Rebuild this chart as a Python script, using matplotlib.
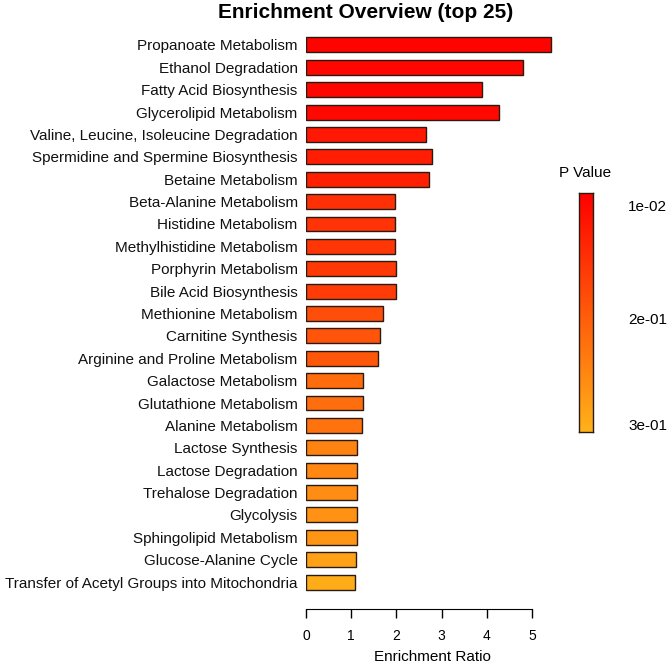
import matplotlib
matplotlib.use("Agg")
import matplotlib.pyplot as plt
import numpy as np
from matplotlib.colors import LinearSegmentedColormap, Normalize

plt.rcParams['font.family'] = ['Liberation Sans', 'DejaVu Sans']

pathways = [
    "Propanoate Metabolism",
    "Ethanol Degradation",
    "Fatty Acid Biosynthesis",
    "Glycerolipid Metabolism",
    "Valine, Leucine, Isoleucine Degradation",
    "Spermidine and Spermine Biosynthesis",
    "Betaine Metabolism",
    "Beta-Alanine Metabolism",
    "Histidine Metabolism",
    "Methylhistidine Metabolism",
    "Porphyrin Metabolism",
    "Bile Acid Biosynthesis",
    "Methionine Metabolism",
    "Carnitine Synthesis",
    "Arginine and Proline Metabolism",
    "Galactose Metabolism",
    "Glutathione Metabolism",
    "Alanine Metabolism",
    "Lactose Synthesis",
    "Lactose Degradation",
    "Trehalose Degradation",
    "Glycolysis",
    "Sphingolipid Metabolism",
    "Glucose-Alanine Cycle",
    "Transfer of Acetyl Groups into Mitochondria",
]
enrichment = [5.42, 4.79, 3.90, 4.26, 2.65, 2.79, 2.72, 1.97, 1.97, 1.97,
              1.99, 1.99, 1.70, 1.63, 1.59, 1.25, 1.25, 1.23, 1.13, 1.13,
              1.13, 1.12, 1.12, 1.11, 1.08]
pvalues = [0.005, 0.010, 0.012, 0.015, 0.040, 0.050, 0.055, 0.080, 0.085, 0.090,
           0.095, 0.100, 0.130, 0.140, 0.145, 0.180, 0.185, 0.190, 0.220, 0.225,
           0.235, 0.245, 0.250, 0.270, 0.290]
xticks = [0, 1, 2, 3, 4, 5]
cbar_labels = ["1e-02", "2e-01", "3e-01"]
cbar_label_pos = [0.94, 0.47, 0.025]  # fraction from bottom of colorbar

cmap = LinearSegmentedColormap.from_list("pv", ["#FF0000", "#FF5A0A", "#FFB21A"])
norm = Normalize(vmin=0.0, vmax=0.30)

W = H = 667
fig = plt.figure(figsize=(6.67, 6.67), dpi=100)

FS = 11

# main axes: x 0 -> 306px, 1 unit = 45.2px ; y top 33.8px, bottom 593.2px
xmax = 5.6
left = 306 / W
width = xmax * 45.2 / W
top = 33.8
bottom = 593.2
ax = fig.add_axes([left, 1 - bottom / H, width, (bottom - top) / H])

y = np.arange(len(pathways))
ax.barh(y, enrichment, height=0.67, color=[cmap(norm(p)) for p in pvalues],
        edgecolor="#2a1a10", linewidth=1.0)
ax.set_ylim(len(pathways) - 0.5, -0.5)
ax.set_xlim(0, xmax)
ax.set_yticks(y)
ax.set_yticklabels(pathways, fontsize=FS, color="#111111")
ax.tick_params(axis='y', length=0, pad=6)
ax.set_xticks(xticks)
ax.set_xticklabels([str(t) for t in xticks], fontsize=FS)
ax.tick_params(axis='x', length=6.5, width=1, pad=8, direction='out')
for s in ['top', 'right', 'left']:
    ax.spines[s].set_visible(False)
ax.spines['bottom'].set_position(('outward', 11.5))
ax.spines['bottom'].set_bounds(0, 5)
ax.set_xlabel("Enrichment Ratio", fontsize=FS, labelpad=5)

fig.text(366 / W, 1 - 12 / H, "Enrichment Overview (top 25)", fontsize=15,
         fontweight='bold', ha='center', va='center')

# colorbar
cb_l, cb_r, cb_t, cb_b = 579, 593, 193, 432
cax = fig.add_axes([cb_l / W, 1 - cb_b / H, (cb_r - cb_l) / W, (cb_b - cb_t) / H])
grad = np.linspace(0, 1, 256).reshape(-1, 1)
cax.imshow(grad, aspect='auto', cmap=cmap, origin='upper', extent=[0, 1, 0, 1])
cax.set_xticks([])
cax.set_yticks([])
for s in cax.spines.values():
    s.set_linewidth(1.0)
    s.set_color("#2a1a10")
for lab, pos in zip(cbar_labels, cbar_label_pos):
    cax.text(3.5, pos, lab, transform=cax.transAxes, fontsize=FS,
             ha='left', va='center')
fig.text(585 / W, 1 - 173 / H, "P Value", fontsize=FS, ha='center', va='center')

fig.savefig("out.png", dpi=100)
